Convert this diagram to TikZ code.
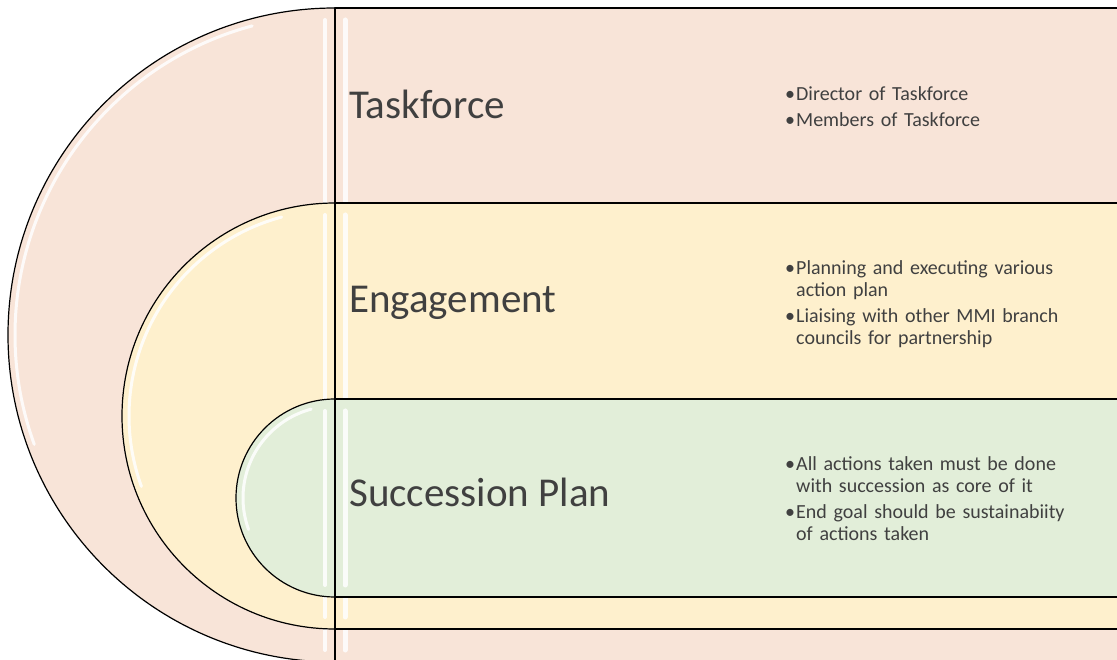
\documentclass[tikz,border=0pt]{standalone}
\usepackage{fontspec}
\setmainfont{Carlito}
\definecolor{rose}{HTML}{F8E4D8}
\definecolor{sand}{HTML}{FEF0CD}
\definecolor{mint}{HTML}{E2EED9}
\definecolor{ink}{HTML}{404040}
\tikzset{
    x=1pt, y=1pt, % one unit is one pixel of the layout
    band/.style={draw=black, line width=1.2pt, line join=round}, % outline of every level
    shine/.style={white, line width=3pt, opacity=0.85, line cap=round}, % bevel highlight
    head/.style={anchor=base west, inner sep=0pt, text=ink, font=\fontsize{41}{48}\selectfont}, % level title
    notes/.style={anchor=west, inner sep=0pt, text=ink, text width=295pt, align=left,
        font=\fontsize{20}{22}\selectfont\setlength{\parskip}{4pt}}, % bullet list
}
\newcommand{\bitem}[1]{\par\hangindent=11pt\hangafter=1\noindent\makebox[11pt][l]{\textbullet}#1\par}

\begin{document}
\begin{tikzpicture}
    \useasboundingbox (0,0) rectangle (1117,659);
    \clip (0,0) rectangle (1117,659);
    \foreach \cy/\r/\col in {324/327/rose, 243/213/sand, 161/99/mint}{
        \draw[band, fill=\col] (335,\cy+\r) arc[start angle=90, end angle=270, radius=\r] -- cycle;
        \draw[band, fill=\col] (335,\cy-\r) rectangle (1130,\cy+\r);
        \draw[shine] (335,\cy) ++(105:\r-7) arc[start angle=105, end angle=200, radius=\r-7];
        \draw[shine, line width=4pt] (325,\cy+\r-12) -- (325,\cy-\r+12);
        \draw[shine, line width=5pt] (345,\cy+\r-12) -- (345,\cy-\r+12);
    }
    \node[head] (task) at (349,540) {Taskforce};
    \node[head] (engage) at (349,346) {Engagement};
    \node[head] (succ) at (349,152) {Succession Plan};
    \node[notes] (tasknotes) at (785,558) {\bitem{Director of Taskforce}\bitem{Members of Taskforce}};
    \node[notes] (engagenotes) at (785,361) {\bitem{Planning and executing various action plan}\bitem{Liaising with other MMI branch councils for partnership}};
    \node[notes] (succnotes) at (785,166) {\bitem{All actions taken must be done with succession as core of it}\bitem{End goal should be sustainabiity of actions taken}};
\end{tikzpicture}
\end{document}
